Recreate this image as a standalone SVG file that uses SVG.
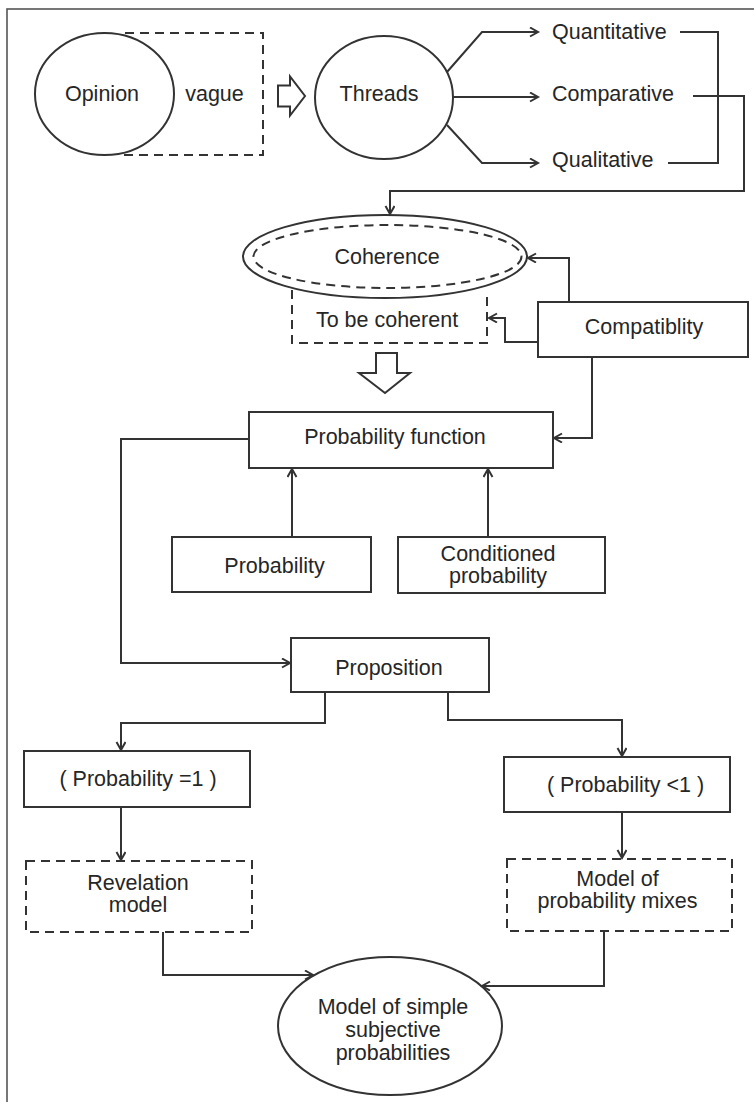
<svg xmlns="http://www.w3.org/2000/svg" width="754" height="1102" viewBox="0 0 754 1102">
  <style>
    .shape { fill: #ffffff; stroke: #333333; stroke-width: 2; }
    .dash { fill: none; stroke: #333333; stroke-width: 2; stroke-dasharray: 9 6; }
    .wire { fill: none; stroke: #333333; stroke-width: 2; }
    .label { font-family: "Liberation Sans", Arial, sans-serif; font-size: 21.5px; fill: #262626; }
    .mid { text-anchor: middle; }
  </style>
  <defs>
    <marker id="chev" markerUnits="userSpaceOnUse" markerWidth="12" markerHeight="12" refX="9" refY="5" orient="auto">
      <path d="M1,0.5 L9,5 L1,9.5" fill="none" stroke="#333333" stroke-width="2"/>
    </marker>
  </defs>

  <rect width="754" height="1102" fill="#ffffff"/>
  <!-- frame -->
  <rect x="7" y="9" width="800" height="1200" fill="none" stroke="#555555" stroke-width="1.6"/>

  <!-- nodes -->
  <g id="vague-zone">
    <path class="dash" d="M125,33 H263 V155 H122"/>
    <text class="label mid" x="214.5" y="101">vague</text>
  </g>
  <g id="opinion">
    <ellipse class="shape" cx="104.5" cy="94" rx="69.5" ry="61"/>
    <text class="label mid" x="102" y="101">Opinion</text>
  </g>
  <g id="hollow-right">
    <path class="shape" d="M278,85.5 H290 V76.5 L305,96 L290,115.5 V106.5 H278 Z" stroke-width="1.8"/>
  </g>
  <g id="threads">
    <ellipse class="shape" cx="384" cy="97.5" rx="69" ry="61.5"/>
    <text class="label mid" x="379" y="101">Threads</text>
  </g>
  <g id="quantitative">
    <text class="label" x="552" y="39">Quantitative</text>
  </g>
  <g id="comparative">
    <text class="label" x="552" y="101">Comparative</text>
  </g>
  <g id="qualitative">
    <text class="label" x="552" y="167">Qualitative</text>
  </g>
  <g id="coherence">
    <ellipse class="shape" cx="385" cy="256.5" rx="142" ry="41.5"/>
    <ellipse class="dash" cx="387.5" cy="256.5" rx="134" ry="31.5"/>
    <text class="label mid" x="387" y="264">Coherence</text>
  </g>
  <g id="to-be-coherent">
    <path class="dash" d="M292,290 V343 H487 V297"/>
    <text class="label mid" x="387" y="327">To be coherent</text>
  </g>
  <g id="compatiblity">
    <rect class="shape" x="538" y="302" width="210" height="55"/>
    <text class="label mid" x="644" y="334">Compatiblity</text>
  </g>
  <g id="hollow-down">
    <path class="shape" d="M376,353 H397 V373 H410 L385,393 L359,373 H376 Z" stroke-width="1.8"/>
  </g>
  <g id="probability-function">
    <rect class="shape" x="249" y="412" width="304" height="56"/>
    <text class="label mid" x="395" y="444">Probability function</text>
  </g>
  <g id="probability">
    <rect class="shape" x="172" y="537" width="199" height="55"/>
    <text class="label mid" x="274.5" y="573">Probability</text>
  </g>
  <g id="conditioned-probability">
    <rect class="shape" x="398" y="537" width="207" height="56"/>
    <text class="label mid" x="498" y="561">Conditioned</text>
    <text class="label mid" x="498" y="583">probability</text>
  </g>
  <g id="proposition">
    <rect class="shape" x="291" y="638" width="198" height="54"/>
    <text class="label mid" x="389" y="675">Proposition</text>
  </g>
  <g id="probability-eq-1">
    <rect class="shape" x="24" y="751" width="226" height="56"/>
    <text class="label mid" x="138" y="786">( Probability =1 )</text>
  </g>
  <g id="probability-lt-1">
    <rect class="shape" x="504" y="757" width="226" height="55"/>
    <text class="label mid" x="625.5" y="792">( Probability &lt;1 )</text>
  </g>
  <g id="revelation-model">
    <rect class="dash" x="26" y="861" width="226" height="71"/>
    <text class="label mid" x="138" y="890">Revelation</text>
    <text class="label mid" x="138" y="912">model</text>
  </g>
  <g id="probability-mixes">
    <rect class="dash" x="507" y="859" width="225" height="72"/>
    <text class="label mid" x="617.5" y="886">Model of</text>
    <text class="label mid" x="617.5" y="908">probability mixes</text>
  </g>
  <g id="simple-subjective">
    <ellipse class="shape" cx="390" cy="1026" rx="112" ry="69"/>
    <text class="label mid" x="393" y="1014">Model of simple</text>
    <text class="label mid" x="393" y="1037">subjective</text>
    <text class="label mid" x="393" y="1060">probabilities</text>
  </g>

  <!-- connectors -->
  <g id="connectors">
    <path class="wire" d="M447,72 L482,32 H538" marker-end="url(#chev)"/>
    <path class="wire" d="M453,97 H538" marker-end="url(#chev)"/>
    <path class="wire" d="M447,125 L482,163 H538" marker-end="url(#chev)"/>
    <path class="wire" d="M680,32 H718 V163 H668"/>
    <path class="wire" d="M693,96 H744 V191 H390 V214" marker-end="url(#chev)"/>
    <path class="wire" d="M569,302 V258 H528" marker-end="url(#chev)"/>
    <path class="wire" d="M538,342 H505 V318 H489" marker-end="url(#chev)"/>
    <path class="wire" d="M592,357 V438 H554" marker-end="url(#chev)"/>
    <path class="wire" d="M292,537 V469" marker-end="url(#chev)"/>
    <path class="wire" d="M488,537 V469" marker-end="url(#chev)"/>
    <path class="wire" d="M249,439 H121 V663 H290" marker-end="url(#chev)"/>
    <path class="wire" d="M325,692 V723 H121 V750" marker-end="url(#chev)"/>
    <path class="wire" d="M448,692 V720 H622 V756" marker-end="url(#chev)"/>
    <path class="wire" d="M121,807 V860" marker-end="url(#chev)"/>
    <path class="wire" d="M622,812 V858" marker-end="url(#chev)"/>
    <path class="wire" d="M163,932 V975 H313" marker-end="url(#chev)"/>
    <path class="wire" d="M604,931 V986 H482" marker-end="url(#chev)"/>
  </g>
</svg>
